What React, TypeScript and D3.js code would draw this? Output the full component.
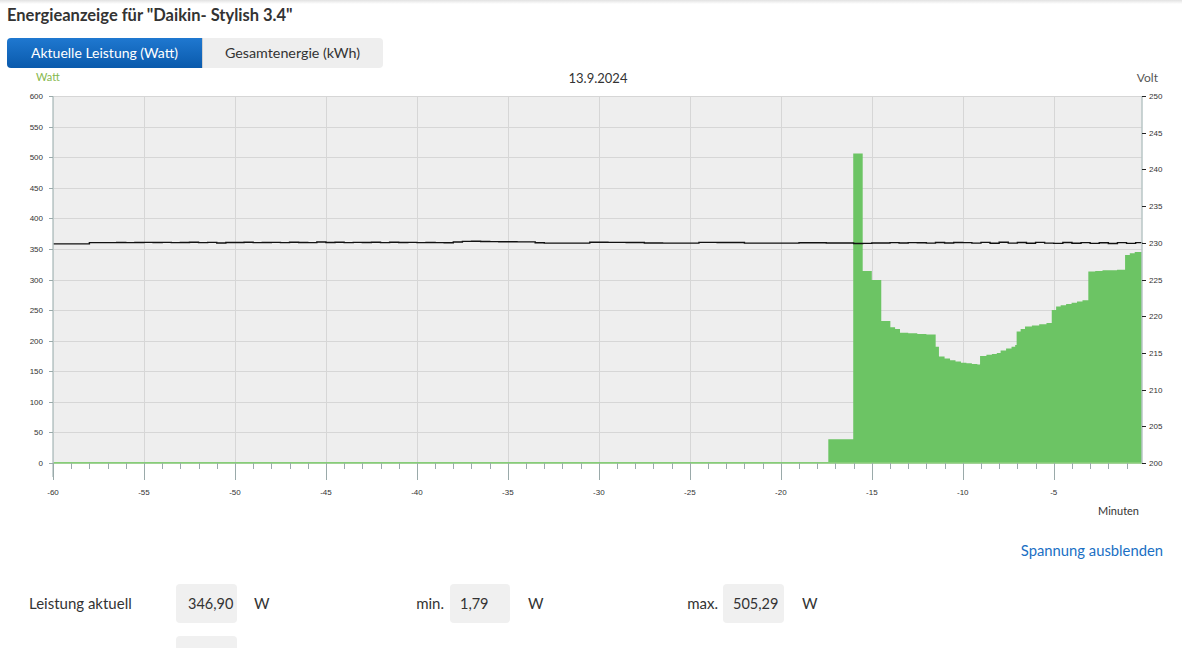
import React from "react";
import * as d3 from "d3";

const title = 'Energieanzeige für "Daikin- Stylish 3.4"';
const tabLabels = ["Aktuelle Leistung (Watt)", "Gesamtenergie (kWh)"];
const dateLabel = "13.9.2024";

const powerMinutes = [
  -60, -17.39, -16.02, -15.5, -15.0, -14.48, -13.98, -13.72, -13.45, -13.0, -12.5, -12.0,
  -11.49, -11.31, -11.0, -10.7, -10.4, -10.1, -9.8, -9.5, -9.2, -9.05, -8.7, -8.4, -8.13,
  -7.92, -7.62, -7.32, -7.12, -7.04, -6.82, -6.58, -6.2, -5.8, -5.4, -5.11, -4.87, -4.62, -4.32,
  -4.02, -3.72, -3.42, -3.1, -2.72, -2.32, -1.92, -1.52, -1.08, -0.82, -0.55, -0.15,
];
const powerWatts = [
  1.79, 39, 506, 314, 299, 232, 222, 219, 213, 212, 211, 210,
  190, 174, 171, 168, 166, 164, 163, 162, 161, 175, 177, 178, 180,
  184, 187, 190, 193, 215, 219, 223, 225, 227, 229, 250, 256, 258, 260,
  262, 264, 266, 313, 314, 315, 315, 316, 340, 343, 345, 347,
];

const voltMinutes = d3.range(-60, 0, 0.5).concat([-0.15]);
const voltValues = [
  229.85, 229.85, 229.85, 229.85, 230.02, 230.03, 230.02, 230.04, 230.03, 230.05,
  230.06, 230.04, 230.06, 230.02, 230.05, 230.07, 230.03, 230.06, 229.98, 230.05,
  230.04, 230.07, 230.03, 230.05, 230.06, 230.03, 230.08, 230.05, 230.03, 230.1,
  230.04, 230.07, 230.02, 230.06, 230.05, 230.08, 230.03, 230.07, 230.04, 230.06,
  230.02, 230.05, 230.03, 230.0, 230.1, 230.2, 230.22, 230.18, 230.16, 230.14,
  230.14, 230.12, 230.12, 230.0, 229.96, 229.96, 229.96, 229.96, 229.96, 230.07,
  230.07, 230.06, 230.06, 230.05, 230.05, 229.97, 229.97, 229.96, 229.96, 229.96,
  229.96, 230.06, 230.06, 230.05, 230.05, 230.04, 229.96, 229.95, 229.95, 229.95,
  229.95, 229.95, 230.0, 230.0, 230.0, 229.98, 229.98, 229.98, 229.9, 229.92,
  229.98, 229.98, 230.02, 229.97, 230.03, 230.0, 229.95, 230.05, 229.98, 230.04,
  230.02, 229.96, 230.06, 229.94, 230.08, 229.95, 230.04, 229.93, 230.06, 229.96,
  229.92, 230.05, 229.94, 230.02, 229.92, 230.0, 229.91, 230.03, 229.92, 230.02,
  229.95,
];

const wattTicks = [0, 50, 100, 150, 200, 250, 300, 350, 400, 450, 500, 550, 600];
const voltTicks = [200, 205, 210, 215, 220, 225, 230, 235, 240, 245, 250];
const xMajorTicks = [-60, -55, -50, -45, -40, -35, -30, -25, -20, -15, -10, -5];
const xMinorTicks = d3.range(-59, 0, 1).filter((m) => m % 5 !== 0);

const statLabels = ["Leistung aktuell", "min.", "max."];
const statValues = ["346,90", "1,79", "505,29"];

const UI = "Lato, 'Open Sans', sans-serif";
const AX = "'Liberation Sans', Arial, sans-serif";

export default function App() {
  const left = 53, right = 1142, top = 96, bottom = 463;
  const x = d3.scaleLinear().domain([-60, -0.15]).range([left, right]);
  const yW = d3.scaleLinear().domain([0, 600]).range([bottom, top]);
  const yV = d3.scaleLinear().domain([200, 250]).range([bottom, top]);

  const power = powerMinutes.map((m, i) => [m, powerWatts[i]] as [number, number]);
  const volt = voltMinutes.map((m, i) => [m, voltValues[i]] as [number, number]);

  const area = d3
    .area<[number, number]>()
    .x((d) => x(d[0]))
    .y0(bottom)
    .y1((d) => yW(d[1]))
    .curve(d3.curveStepAfter)(power) as string;
  const vline = d3
    .line<[number, number]>()
    .x((d) => x(d[0]))
    .y((d) => yV(d[1]))
    .curve(d3.curveStepAfter)(volt) as string;

  return (
    <div style={{ position: "absolute", left: 0, top: 0 }}>
      <svg width={1182} height={648} style={{ display: "block" }}>
        <defs>
          <linearGradient id="shadow" x1="0" y1="0" x2="0" y2="1">
            <stop offset="0" stopColor="#e2e2e2" />
            <stop offset="1" stopColor="#ffffff" />
          </linearGradient>
          <linearGradient id="tabblue" x1="0" y1="0" x2="0" y2="1">
            <stop offset="0" stopColor="#1f78d0" />
            <stop offset="1" stopColor="#0a5aac" />
          </linearGradient>
        </defs>
        <rect x={0} y={0} width={1182} height={648} fill="#ffffff" />
        <rect x={0} y={0} width={1182} height={4} fill="url(#shadow)" />

        <text x={7} y={21} fontFamily={UI} fontWeight={700} fontSize={16.5} fill="#333">
          {title}
        </text>

        {/* tabs */}
        <path d="M11,38 H202 V68 H11 Q7,68 7,64 V42 Q7,38 11,38 Z" fill="url(#tabblue)" />
        <path d="M202,38 H379 Q383,38 383,42 V64 Q383,68 379,68 H202 Z" fill="#eeeeee" />
        <line x1={202.5} y1={38} x2={202.5} y2={68} stroke="#d0d0d0" />
        <text x={104.5} y={58} textAnchor="middle" fontFamily={UI} fontSize={14} fill="#fff">
          {tabLabels[0]}
        </text>
        <text x={292.5} y={58} textAnchor="middle" fontFamily={UI} fontSize={14.3} fill="#333">
          {tabLabels[1]}
        </text>

        {/* chart headers */}
        <text x={36} y={81} fontFamily={UI} fontSize={11} fill="#86b84e">Watt</text>
        <text x={598} y={83} textAnchor="middle" fontFamily={UI} fontSize={13} fill="#333">
          {dateLabel}
        </text>
        <text x={1158} y={82} textAnchor="end" fontFamily={UI} fontSize={12} fill="#555">Volt</text>

        {/* plot background */}
        <rect x={left} y={top} width={right - left} height={bottom - top} fill="#eeeeee" />
        {wattTicks.map((t) => (
          <line key={"hg" + t} x1={left} x2={right} y1={Math.round(yW(t)) + 0.5} y2={Math.round(yW(t)) + 0.5} stroke="#d6d6d6" />
        ))}
        {xMajorTicks.map((t) => (
          <line key={"vg" + t} x1={Math.round(x(t)) + 0.5} x2={Math.round(x(t)) + 0.5} y1={top} y2={bottom} stroke="#d6d6d6" />
        ))}

        <path d={area} fill="#6cc464" />
        <line x1={left} x2={right} y1={bottom} y2={bottom} stroke="#8fd07f" strokeWidth={1.5} />
        <path d={vline} fill="none" stroke="#111" strokeWidth={1.4} />

        {/* left axis */}
        <line x1={left} x2={left} y1={top} y2={bottom + 14} stroke="#b8c6c6" strokeWidth={1.5} />
        {wattTicks.map((t) => (
          <g key={"wt" + t}>
            <line x1={left - 4} x2={left} y1={Math.round(yW(t)) + 0.5} y2={Math.round(yW(t)) + 0.5} stroke="#9aaaaa" />
            <text x={43} y={yW(t) + 3} textAnchor="end" fontFamily={AX} fontSize={8} fill="#333">
              {t}
            </text>
          </g>
        ))}

        {/* right axis */}
        <line x1={right} x2={right} y1={top} y2={bottom} stroke="#b8c6c6" strokeWidth={1.5} />
        {voltTicks.map((t) => (
          <g key={"vt" + t}>
            <line x1={right} x2={right + 4} y1={Math.round(yV(t)) + 0.5} y2={Math.round(yV(t)) + 0.5} stroke="#222" />
            <text x={1149} y={yV(t) + 3} fontFamily={AX} fontSize={8} fill="#333">
              {t}
            </text>
          </g>
        ))}

        {/* x axis */}
        {xMinorTicks.map((t) => (
          <line key={"mt" + t} x1={Math.round(x(t)) + 0.5} x2={Math.round(x(t)) + 0.5} y1={bottom} y2={bottom + 6} stroke="#9aaaaa" />
        ))}
        {xMajorTicks.map((t) => (
          <g key={"xt" + t}>
            <line x1={Math.round(x(t)) + 0.5} x2={Math.round(x(t)) + 0.5} y1={bottom} y2={bottom + 17} stroke="#9aaaaa" />
            <text x={x(t)} y={495} textAnchor="middle" fontFamily={AX} fontSize={8} fill="#333">
              {t}
            </text>
          </g>
        ))}
        <text x={1139} y={515} textAnchor="end" fontFamily={UI} fontSize={11} fill="#333">Minuten</text>

        <text x={1163} y={556} textAnchor="end" fontFamily={UI} fontSize={14.8} fill="#1a6fc4">
          Spannung ausblenden
        </text>

        {/* stats row */}
        <text x={29} y={609} fontFamily={UI} fontSize={15} fill="#333">{statLabels[0]}</text>
        <rect x={176} y={584} width={61} height={39} rx={4} fill="#f0f0f0" />
        <text x={188} y={609} fontFamily={UI} fontSize={14.5} fill="#333">{statValues[0]}</text>
        <text x={254} y={609} fontFamily={UI} fontSize={15} fill="#333">W</text>

        <text x={444} y={609} textAnchor="end" fontFamily={UI} fontSize={15} fill="#333">{statLabels[1]}</text>
        <rect x={450} y={584} width={60} height={39} rx={4} fill="#f0f0f0" />
        <text x={460} y={609} fontFamily={UI} fontSize={14.5} fill="#333">{statValues[1]}</text>
        <text x={528} y={609} fontFamily={UI} fontSize={15} fill="#333">W</text>

        <text x={718} y={609} textAnchor="end" fontFamily={UI} fontSize={15} fill="#333">{statLabels[2]}</text>
        <rect x={723} y={584} width={61} height={39} rx={4} fill="#f0f0f0" />
        <text x={733} y={609} fontFamily={UI} fontSize={14.5} fill="#333">{statValues[2]}</text>
        <text x={802} y={609} fontFamily={UI} fontSize={15} fill="#333">W</text>

        <rect x={176} y={636} width={61} height={20} rx={4} fill="#f0f0f0" />
      </svg>
    </div>
  );
}
